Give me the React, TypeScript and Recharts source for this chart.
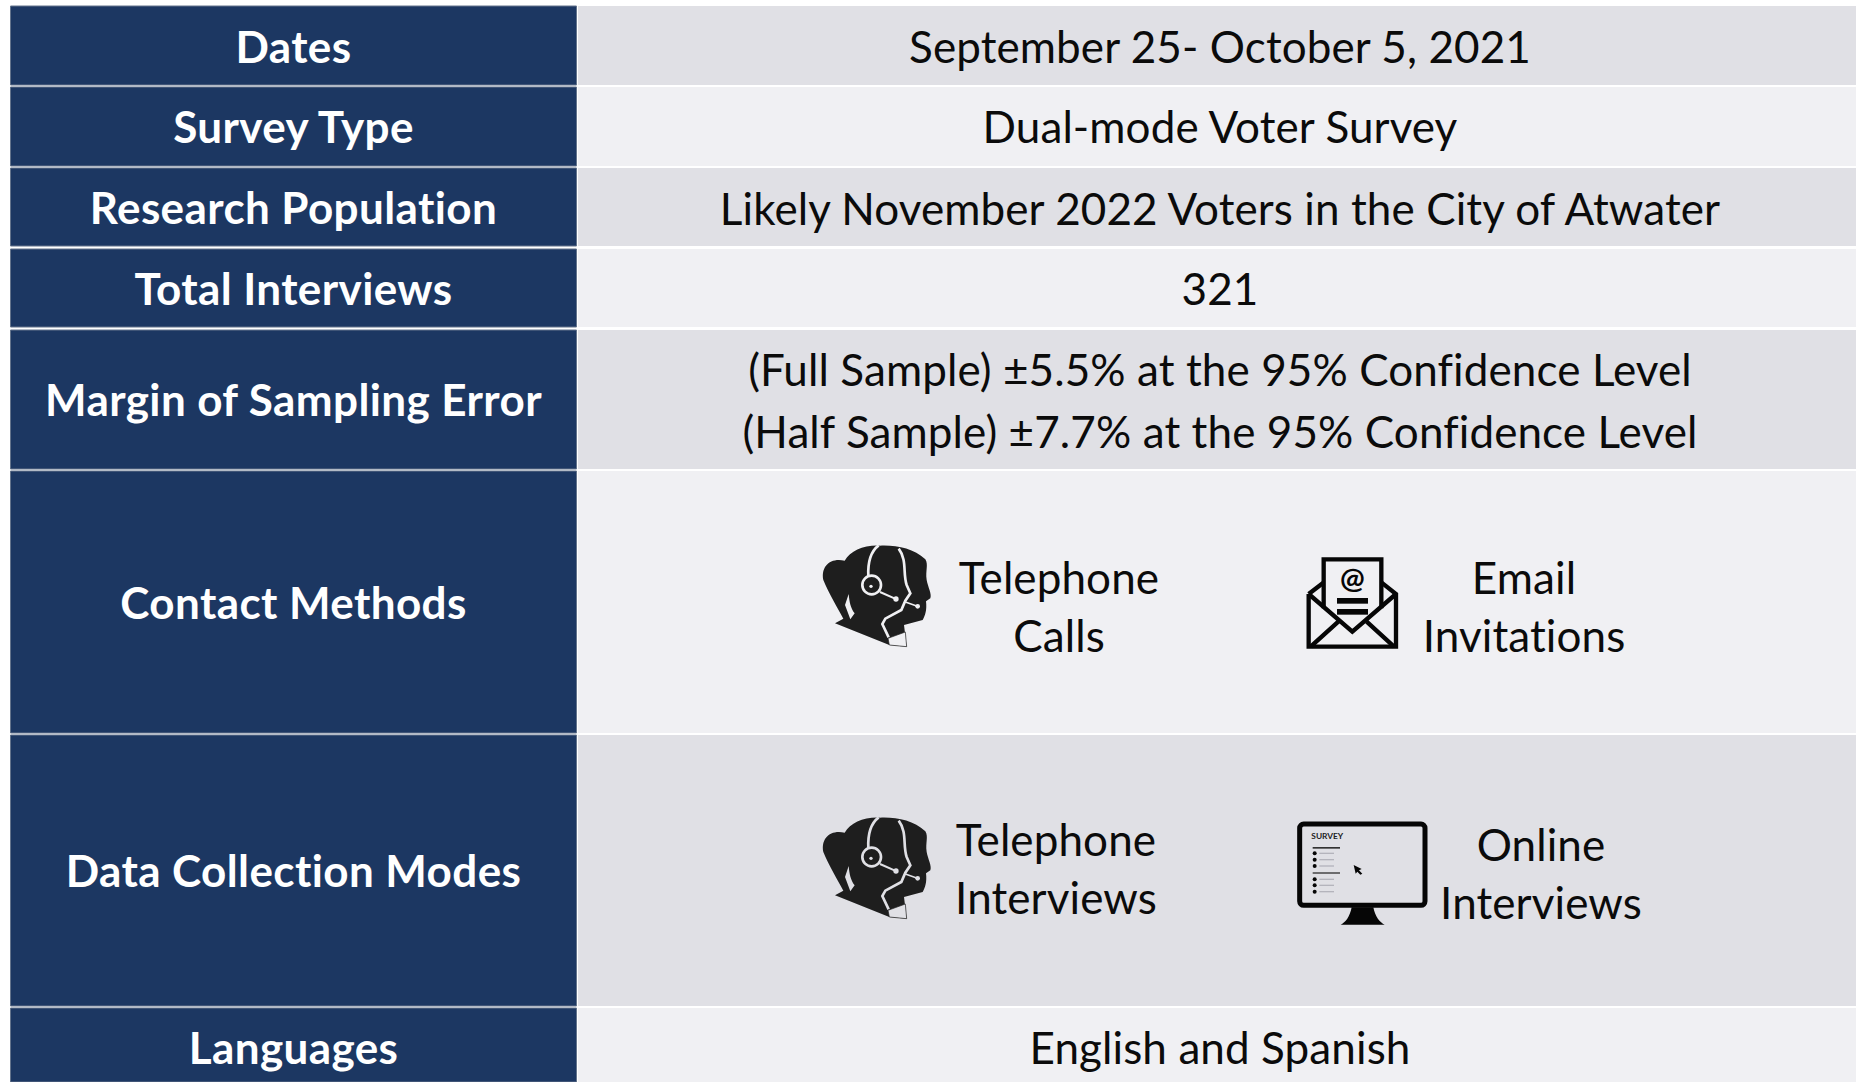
import React from "react";
import { ComposedChart, XAxis, YAxis, ReferenceArea, Scatter } from "recharts";

const W = 1856;
const H = 1082;
const FONT = "Lato, 'Noto Sans', sans-serif";
const NAVY = "#1c3762";
const BAND_A = "#e0e0e5";
const BAND_B = "#f0f0f3";
const INK = "#0b0b0b";
const LABEL_X0 = 10.5;
const LABEL_X1 = 576.5;
const VALUE_X0 = 578;

const rowLabels = ["Dates", "Survey Type", "Research Population", "Total Interviews", "Margin of Sampling Error", "Contact Methods", "Data Collection Modes", "Languages"];
const rowTop = [6, 87, 168, 249, 330, 471, 735, 1008];
const rowBottom = [85, 166, 246, 327, 469, 733, 1006, 1082];
const labelBaseline = [63, 143, 224, 305, 416, 619, 887, 1064];

const valueLines = [
  "September 25- October 5, 2021",
  "Dual-mode Voter Survey",
  "Likely November 2022 Voters in the City of Atwater",
  "321",
  "(Full Sample) ±5.5% at the 95% Confidence Level",
  "(Half Sample) ±7.7% at the 95% Confidence Level",
  "Telephone", "Calls", "Email", "Invitations",
  "Telephone", "Interviews", "Online", "Interviews",
  "English and Spanish",
];
const valueCenter = [1220, 1220, 1220, 1220, 1220, 1220, 1059, 1059, 1524, 1524, 1056, 1056, 1541, 1541, 1220];
const valueBaseline = [63, 143, 225, 305, 386, 448, 594, 652, 594, 652, 856, 914, 861, 919, 1064];

const iconNames = ["headset", "envelope", "headset", "monitor"];
const iconLeft = [800, 1280, 800, 1280];
const iconTop = [530, 530, 802, 800];

const labelPoints = rowLabels.map((text, i) => ({ x: (LABEL_X0 + LABEL_X1) / 2, y: labelBaseline[i], text, kind: "label" }));
const valuePoints = valueLines.map((text, i) => ({ x: valueCenter[i], y: valueBaseline[i], text, kind: "value" }));

function TextMark(props: any) {
  const { cx, cy, payload } = props;
  const isLabel = payload.kind === "label";
  return (
    <text
      x={cx}
      y={cy}
      textAnchor="middle"
      fontFamily={FONT}
      fontSize={44}
      fontWeight={isLabel ? 700 : 400}
      fill={isLabel ? "#ffffff" : INK}
      letterSpacing={isLabel ? 0.4 : 0.1}
      style={{ fontVariantLigatures: "none" }}
    >
      {payload.text}
    </text>
  );
}

function Headset({ bg }: { bg: string }) {
  const dark = "#1e1e1e";
  return (
    <g>
      <path d="M105,280 L130,266 C112,232 86,190 70,150 C62,110 90,82 134,92 C152,62 190,45 240,47 C290,45 340,55 376,88 C386,104 376,122 380,150 C384,172 396,192 391,205 L378,214 C381,240 376,256 368,270 L312,285 L320,350 L268,345 Z" fill={dark} />
      <path d="M205,138 C203,95 215,62 236,46" fill="none" stroke={bg} strokeWidth={8} />
      <path d="M296,56 C322,90 308,130 320,165 L331,190 L316,212 L304,240 L256,266 L247,282 L266,322" fill="none" stroke={bg} strokeWidth={8} />
      <circle cx={215} cy={165} r={28} fill={dark} stroke={bg} strokeWidth={8} />
      <circle cx={213} cy={169} r={5} fill={bg} />
      <path d="M240,186 L285,206" stroke={bg} strokeWidth={6} />
      <circle cx={288} cy={207} r={8} fill={bg} />
      <path d="M316,216 L350,228" stroke={bg} strokeWidth={5} />
      <circle cx={353} cy={229} r={7} fill={bg} />
      <path d="M146,192 L135,225 L151,268 L164,250 C152,235 148,215 146,192 Z" fill={bg} />
      <path d="M264,325 L316,306 L320,350 L268,345 Z" fill={bg} stroke={dark} strokeWidth={2} />
    </g>
  );
}

function Envelope() {
  const k = "#060606";
  return (
    <g fill="none" stroke={k}>
      <path d="M86,192 L86,350 L348,350 L348,192 L305,158 M86,192 L130,158" strokeWidth={13} />
      <path d="M131,235 L131,88 L304,88 L304,235" strokeWidth={13} />
      <path d="M86,192 L217,305 L348,192" strokeWidth={13} />
      <path d="M92,350 L175,275 M342,350 L260,275" strokeWidth={13} />
      <rect x={171} y={204} width={93} height={17} fill={k} stroke="none" />
      <rect x={171} y={237} width={93} height={17} fill={k} stroke="none" />
      <text x={217} y={176} textAnchor="middle" fontFamily={FONT} fontSize={88} fontWeight={700} fill={k} stroke="none">@</text>
    </g>
  );
}

function Monitor() {
  const k = "#060606";
  const bulletRows = [160, 179, 198, 238, 256, 275];
  return (
    <g>
      <rect x={59} y={72} width={376} height={244} rx={12} fill="none" stroke={k} strokeWidth={15} />
      <path d="M215,322 L280,322 C285,350 300,368 314,374 L182,374 C196,368 210,350 215,322 Z" fill={k} />
      <text x={94} y={116} fontFamily={FONT} fontSize={25} fontWeight={700} fill="#222">SURVEY</text>
      <rect x={98} y={141} width={82} height={5} fill="#333" />
      <rect x={98} y={217} width={82} height={4} fill="#333" />
      {bulletRows.map((y) => (
        <g key={y}>
          <circle cx={104} cy={y} r={6} fill={k} />
          <rect x={118} y={y - 2} width={44} height={4} fill="#b4b4bc" />
        </g>
      ))}
      <path d="M221,195 L245,207 L237,211 L247,221 L241,224 L232,215 L227,221 Z" fill={k} />
    </g>
  );
}

function IconShape(props: any) {
  const { x, y, name, bg } = props;
  return (
    <g transform={`translate(${x},${y}) scale(${1 / 3})`}>
      {name === "headset" && <Headset bg={bg} />}
      {name === "envelope" && <Envelope />}
      {name === "monitor" && <Monitor />}
    </g>
  );
}

export default function App() {
  return (
    <div style={{ position: "absolute", left: 0, top: 0, width: W, height: H, background: "#ffffff", overflow: "hidden" }}>
      <ComposedChart width={W} height={H} margin={{ top: 0, right: 0, bottom: 0, left: 0 }} data={[]}>
        <XAxis type="number" dataKey="x" domain={[0, W]} hide allowDataOverflow />
        <YAxis type="number" dataKey="y" domain={[0, H]} reversed hide width={0} allowDataOverflow />
        {rowLabels.map((name, i) => (
          <ReferenceArea key={"l" + name} x1={LABEL_X0} x2={LABEL_X1} y1={rowTop[i]} y2={rowBottom[i]} fill={NAVY} fillOpacity={1} stroke="#64748c" strokeWidth={1} />
        ))}
        {rowLabels.map((name, i) => (
          <ReferenceArea key={"v" + name} x1={VALUE_X0} x2={W} y1={rowTop[i]} y2={rowBottom[i]} fill={i % 2 === 0 ? BAND_A : BAND_B} fillOpacity={1} />
        ))}
        {iconNames.map((name, i) => (
          <ReferenceArea
            key={"i" + i}
            x1={iconLeft[i]}
            x2={iconLeft[i] + 360}
            y1={iconTop[i]}
            y2={iconTop[i] + 130}
            fillOpacity={0}
            shape={(p: any) => <IconShape {...p} name={name} bg={i < 2 ? BAND_B : BAND_A} />}
          />
        ))}
        <Scatter data={labelPoints} dataKey="y" shape={TextMark} isAnimationActive={false} />
        <Scatter data={valuePoints} dataKey="y" shape={TextMark} isAnimationActive={false} />
      </ComposedChart>
    </div>
  );
}
